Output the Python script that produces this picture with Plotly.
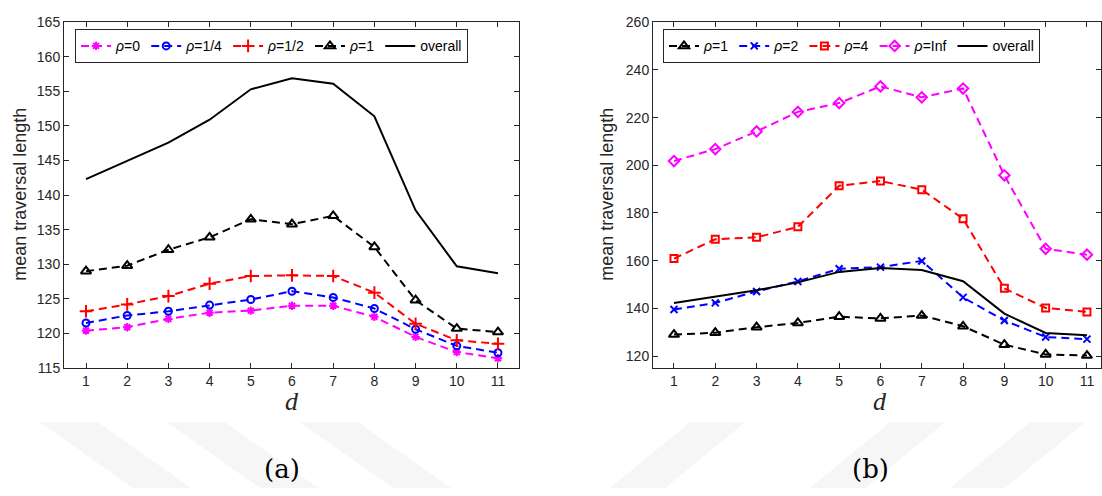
import plotly.graph_objects as go

d = list(range(1, 12))

# Panel (a)
rho0 = [120.4, 120.9, 122.1, 123.0, 123.3, 124.0, 124.0, 122.4, 119.5, 117.3, 116.4]
rho14 = [121.5, 122.6, 123.2, 124.1, 124.9, 126.1, 125.2, 123.6, 120.6, 118.2, 117.2]
rho12 = [123.2, 124.2, 125.4, 127.2, 128.3, 128.4, 128.3, 125.9, 121.4, 119.0, 118.5]
rho1 = [129.0, 129.8, 132.1, 133.9, 136.5, 135.8, 137.0, 132.5, 124.8, 120.7, 120.2]
overall = [142.3, 145.0, 147.6, 150.9, 155.3, 156.9, 156.1, 151.4, 137.8, 129.7, 128.7]

# Panel (b)
rho2 = [139.5, 142.3, 147.1, 151.3, 156.6, 157.3, 159.9, 144.6, 134.9, 128.0, 127.1]
rho4 = [160.9, 169.0, 169.8, 174.2, 191.4, 193.4, 189.8, 177.6, 148.4, 140.2, 138.5]
rhoinf = [201.8, 206.8, 214.2, 222.4, 226.1, 233.1, 228.5, 232.2, 195.8, 165.0, 162.5]

W, H = 1102, 496
def px(x):
    return x / W
def py(y):
    return 1 - y / H

DASH = "8px,5px"
TXT = "#262626"

fig = go.Figure()

def add(y, name, color, symbol, xa, ya, leg, dash=DASH, msize=7, solid=False):
    fig.add_trace(go.Scatter(
        x=d, y=y, name=name, xaxis=xa, yaxis=ya, legend=leg,
        mode="lines" if solid else "lines+markers",
        line=dict(color=color, width=2, dash="solid" if solid else dash),
        marker=dict(symbol=symbol, size=msize, color=color,
                    line=dict(color=color, width=2)),
    ))

add(rho0, "<i>ρ</i>=0", "#ff00ff", "asterisk-open", "x", "y", "legend", msize=7)
add(rho14, "<i>ρ</i>=1/4", "#0000ff", "circle-open", "x", "y", "legend")
add(rho12, "<i>ρ</i>=1/2", "#ff0000", "cross-thin-open", "x", "y", "legend", msize=9)
add(rho1, "<i>ρ</i>=1", "#000000", "triangle-up-open", "x", "y", "legend", msize=9)
add(overall, "overall", "#000000", None, "x", "y", "legend", solid=True)

add(rho1, "<i>ρ</i>=1", "#000000", "triangle-up-open", "x2", "y2", "legend2", msize=9)
add(rho2, "<i>ρ</i>=2", "#0000ff", "x-thin-open", "x2", "y2", "legend2", msize=7)
add(rho4, "<i>ρ</i>=4", "#ff0000", "square-open", "x2", "y2", "legend2", msize=7)
add(rhoinf, "<i>ρ</i>=Inf", "#ff00ff", "diamond-open", "x2", "y2", "legend2", msize=8)
add(overall, "overall", "#000000", None, "x2", "y2", "legend2", solid=True)

axis_common = dict(showline=True, linecolor=TXT, linewidth=1, mirror="ticks",
                   ticks="inside", ticklen=5, tickcolor=TXT, showgrid=False,
                   zeroline=False, tickfont=dict(family="Liberation Sans", size=14, color=TXT))

legend_common = dict(orientation="h", xanchor="left", yanchor="top",
                     bordercolor=TXT, borderwidth=1, bgcolor="white",
                     font=dict(family="Liberation Sans", size=14, color="black"),
                     itemwidth=30, tracegroupgap=0)

ydom = [py(372), py(14.7)]
fig.update_layout(
    width=W, height=H, margin=dict(l=0, r=0, t=0, b=0),
    paper_bgcolor="white", plot_bgcolor="white", showlegend=True,
    xaxis=dict(domain=[px(64), px(519)], range=[0.466, 11.51], tickvals=d,
               anchor="y", **axis_common),
    yaxis=dict(domain=ydom, range=[115, 165], tickvals=list(range(115, 166, 5)),
               anchor="x", **axis_common),
    xaxis2=dict(domain=[px(653), px(1101)], range=[0.492, 11.34], tickvals=d,
                anchor="y2", **axis_common),
    yaxis2=dict(domain=ydom, range=[115, 260], tickvals=list(range(120, 261, 20)),
                anchor="x2", **axis_common),
    legend=dict(x=px(75), y=py(22), **legend_common),
    legend2=dict(x=px(663), y=py(22), **legend_common),
)

ann = []
for xc in (20, 607):
    ann.append(dict(text="mean traversal length", x=px(xc), y=py(193), xref="paper", yref="paper",
                    textangle=-90, showarrow=False, xanchor="center", yanchor="middle",
                    font=dict(family="Liberation Sans", size=18, color=TXT)))
for xc in (292, 880):
    ann.append(dict(text="<i>d</i>", x=px(xc), y=py(407), xref="paper", yref="paper",
                    showarrow=False, xanchor="center", yanchor="middle",
                    font=dict(family="Liberation Serif", size=26, color=TXT)))
for xc, lab in ((282, "(a)"), (870, "(b)")):
    ann.append(dict(text=lab, x=px(xc), y=py(476), xref="paper", yref="paper",
                    showarrow=False, xanchor="center", yanchor="middle",
                    font=dict(family="DejaVu Serif", size=26, color="black")))
fig.update_layout(annotations=ann)

# faint watermark stripes
shapes = []
for x0 in (40, 167, 300):
    path = f"M {px(x0)} {py(428)} L {px(x0+58)} {py(428)} L {px(x0+58+93)} {py(496)} L {px(x0+93)} {py(496)} Z"
    shapes.append(dict(type="path", path=path, xref="paper", yref="paper",
                       fillcolor="#f6f6f6", line=dict(width=0), layer="below"))
for x0 in (690, 890, 1030):
    path = f"M {px(x0)} {py(428)} L {px(x0+55)} {py(428)} L {px(x0+55-80)} {py(496)} L {px(x0-80)} {py(496)} Z"
    shapes.append(dict(type="path", path=path, xref="paper", yref="paper",
                       fillcolor="#f6f6f6", line=dict(width=0), layer="below"))
fig.update_layout(shapes=shapes)

fig.write_html("out.html")
